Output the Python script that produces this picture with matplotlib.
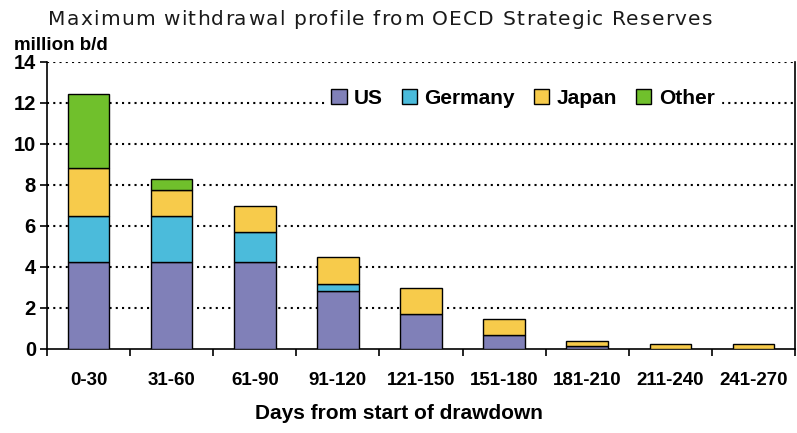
import matplotlib.pyplot as plt
import numpy as np
from matplotlib.patches import Patch

categories = ["0-30", "31-60", "61-90", "91-120", "121-150",
              "151-180", "181-210", "211-240", "241-270"]
us = [4.25, 4.25, 4.25, 2.83, 1.72, 0.68, 0.15, 0.0, 0.0]
germany = [2.25, 2.25, 1.45, 0.36, 0.0, 0.0, 0.0, 0.0, 0.0]
japan = [2.33, 1.26, 1.28, 1.28, 1.24, 0.80, 0.24, 0.26, 0.26]
other = [3.60, 0.53, 0.0, 0.0, 0.0, 0.0, 0.0, 0.0, 0.0]

series = [("US", us, "#8080B8"),
          ("Germany", germany, "#4BBBDB"),
          ("Japan", japan, "#F7CB4B"),
          ("Other", other, "#70C02C")]

title = "Maximum withdrawal profile from OECD Strategic Reserves"

fig = plt.figure(figsize=(7.97, 4.33), dpi=100)
ax = fig.add_axes([0.059, 0.194, 0.9385, 0.663])

x = np.arange(len(categories))
bottom = np.zeros(len(categories))
for name, vals, col in series:
    vals = np.array(vals)
    mask = vals > 0
    ax.bar(x[mask], vals[mask], 0.5, bottom=bottom[mask], color=col,
           edgecolor="black", linewidth=1, zorder=3)
    bottom += vals

ax.set_xlim(-0.5, len(categories) - 0.5)
ax.set_ylim(0, 14)

# dotted grid lines (top one too)
for yv in range(2, 15, 2):
    ax.axhline(yv, color="black", linestyle=(0, (1, 2)), linewidth=1.5, zorder=1)

ax.spines["top"].set_visible(False)
for s in ["left", "bottom", "right"]:
    ax.spines[s].set_linewidth(1.2)

ax.set_yticks(range(0, 15, 2))
ax.set_yticklabels([str(v) for v in range(0, 15, 2)],
                   fontsize=14.5, fontweight="bold", family="Liberation Sans")
ax.tick_params(axis="y", length=5, width=1.2, pad=3)

# ticks sit between the categories
ax.set_xticks(np.arange(len(categories) + 1) - 0.5)
ax.set_xticklabels([])
ax.tick_params(axis="x", length=5, width=1.2)
for i, c in enumerate(categories):
    ax.text(i, -1.55, c, ha="center", va="center", fontsize=13.5,
            fontweight="bold", family="Liberation Sans")

fig.text(0.50, 0.046, "Days from start of drawdown", ha="center", va="center",
         fontsize=15, fontweight="bold", family="Liberation Sans")
fig.text(0.017, 0.896, "million b/d", ha="left", va="center",
         fontsize=13.5, fontweight="bold", family="Liberation Sans")

# title with a little extra letter spacing
renderer = fig.canvas.get_renderer()
tkw = dict(fontsize=14.5, family="DejaVu Sans", color="#1a1a1a")
def text_w(s):
    t = fig.text(0, 0, s, **tkw)
    w = t.get_window_extent(renderer).width
    t.remove()
    return w

target_w = 664.0
natural = text_w(title)
track = max(0.0, (target_w - natural) / (len(title) - 1))
x0 = 48.0
for i, ch in enumerate(title):
    if ch == " ":
        continue
    left = text_w(title[:i + 1]) - text_w(ch) + i * track
    fig.text((x0 + left) / 797, 0.954, ch, ha="left", va="center", **tkw)

handles = [Patch(facecolor=col, edgecolor="black", label=name) for name, _, col in series]
leg = ax.legend(handles=handles, loc="center", bbox_to_anchor=(0.636, 0.873),
                ncol=4, frameon=True, fancybox=False, edgecolor="white",
                framealpha=1, handlelength=0.75, handleheight=0.75,
                handletextpad=0.35, columnspacing=0.9, borderpad=0.3,
                prop={"family": "Liberation Sans", "weight": "bold", "size": 15})
leg.set_zorder(5)

fig.savefig("out.png", dpi=100)
